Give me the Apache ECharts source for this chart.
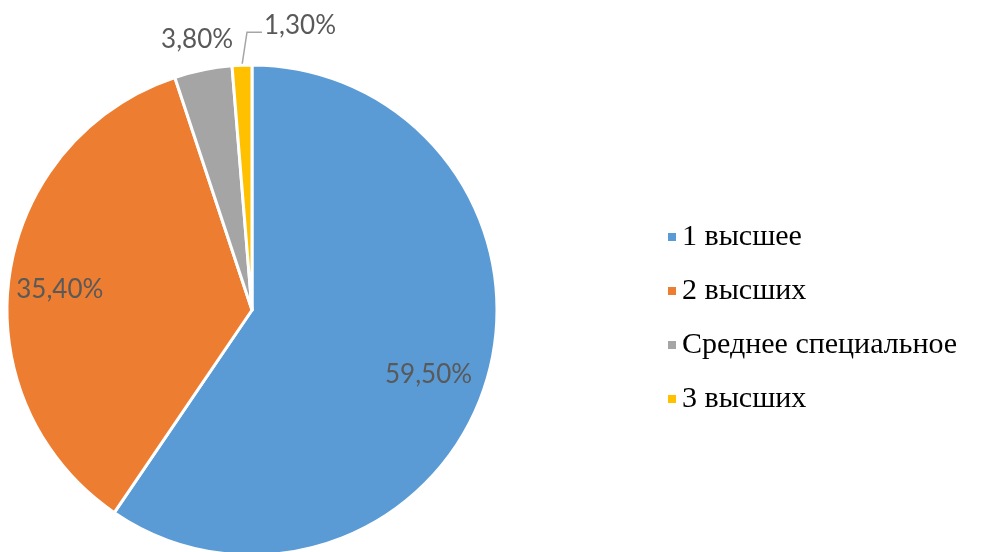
<!DOCTYPE html>
<html>
<head>
<meta charset="utf-8">
<script src="https://cdn.jsdelivr.net/npm/echarts@6/dist/echarts.min.js"></script>
<style>html,body{margin:0;padding:0;background:#fff}#c{width:981px;height:552px}</style>
</head>
<body>
<div id="c"></div>
<script>
var categories = ['1 высшее', '2 высших', 'Среднее специальное', '3 высших'];
var values = [59.5, 35.4, 3.8, 1.3];
var labels = ['59,50%', '35,40%', '3,80%', '1,30%'];
var colors = ['#5B9BD5', '#ED7D31', '#A5A5A5', '#FFC000'];

var labelRich = { v: { fontFamily: 'Lato', fontSize: 26, color: '#595959' } };
function fmt(p) { return '{v|' + labels[p.dataIndex] + '}'; }

var mainData = categories.map(function (n, i) {
  var outside = i >= 2;
  return {
    name: n, value: values[i],
    itemStyle: { color: colors[i] },
    label: { show: outside },
    labelLine: { show: outside, lineStyle: { opacity: i === 3 ? 1 : 0 } }
  };
});
var innerData = categories.map(function (n, i) {
  return { name: n, value: values[i], label: { show: i < 2 } };
});

var chart = echarts.init(document.getElementById('c'));
chart.setOption({
  animation: false,
  legend: {
    orient: 'vertical', left: 661, top: 217,
    itemWidth: 10, itemHeight: 10, itemGap: 24, icon: 'rect',
    data: categories,
    formatter: function (n) { return '{t|' + n + '}'; },
    textStyle: {
      fontSize: 30, color: '#000',
      rich: { t: { fontFamily: 'Liberation Serif', fontSize: 30 } }
    }
  },
  series: [
    {
      type: 'pie', center: [252, 310], radius: 245, startAngle: 90, clockwise: true,
      avoidLabelOverlap: false, silent: true,
      itemStyle: { borderColor: '#fff', borderWidth: 3 },
      emphasis: { disabled: true },
      label: { position: 'outside', formatter: fmt, rich: labelRich },
      labelLine: { length: 15, length2: 10, lineStyle: { color: '#A6A6A6', width: 1.5 } },
      labelLayout: function (p) {
        var pts = p.labelLinePoints;
        if (!pts || !pts.length) return {};
        var a = pts[0];
        if (p.dataIndex === 3) {
          var b = [a[0] + 5, a[1] - 33];
          var c = [a[0] + 20, a[1] - 33];
          return { x: c[0] + 2, y: c[1] - 7, align: 'left', verticalAlign: 'middle', labelLinePoints: [a, b, c] };
        }
        if (p.dataIndex === 2) {
          return { x: a[0] - 6, y: a[1] - 30, align: 'center', verticalAlign: 'middle' };
        }
        return {};
      },
      data: mainData
    },
    {
      type: 'pie', center: [252, 310], radius: 376, startAngle: 90, clockwise: true,
      silent: true, avoidLabelOverlap: false,
      itemStyle: { color: 'rgba(0,0,0,0)', borderWidth: 0 },
      emphasis: { disabled: true },
      label: { position: 'inside', formatter: fmt, rich: labelRich },
      labelLine: { show: false },
      labelLayout: function (p) {
        return p.dataIndex === 0 ? { dx: -6, dy: 8 } : { dx: -3, dy: 6 };
      },
      data: innerData
    }
  ]
});
</script>
</body>
</html>
